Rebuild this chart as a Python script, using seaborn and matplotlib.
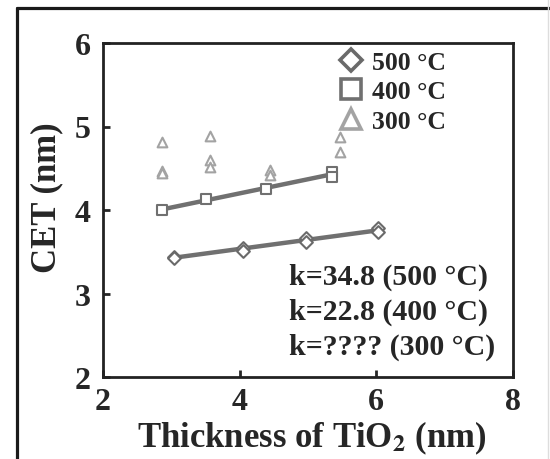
import matplotlib
matplotlib.use("Agg")
import matplotlib.pyplot as plt
import seaborn as sns
import pandas as pd
from matplotlib.lines import Line2D

# thickness of TiO2 (nm) and CET (nm)
t500 = [3.04, 3.04, 4.05, 4.05, 4.97, 4.97, 6.02, 6.02]
cet500 = [3.44, 3.43, 3.55, 3.51, 3.66, 3.62, 3.78, 3.74]

t400 = [2.86, 3.50, 4.38, 5.35, 5.35]
cet400 = [4.00, 4.13, 4.25, 4.46, 4.40]

t300 = [2.86, 2.86, 2.86, 3.57, 3.57, 3.57, 4.45, 4.45, 5.47, 5.47]
cet300 = [4.82, 4.47, 4.44, 4.89, 4.60, 4.52, 4.48, 4.42, 4.87, 4.70]

series_labels = ["500 °C", "400 °C", "300 °C"]
k_labels = ["k=34.8 (500 °C)", "k=22.8 (400 °C)", "k=???? (300 °C)"]
x_ticks = [2, 4, 6, 8]
y_ticks = [2, 3, 4, 5, 6]

sns.set_style("ticks")
plt.rcParams["font.family"] = ["Liberation Serif", "DejaVu Serif"]
plt.rcParams["font.weight"] = "bold"
plt.rcParams["mathtext.fontset"] = "stix"

fig = plt.figure(figsize=(5.5, 4.6), dpi=100)
ax = fig.add_axes([103 / 550, 1 - 378 / 460, 410 / 550, 334 / 460])

line_col = "#707070"
styles = {
    "500 °C": dict(marker="D", color="#6a6a6a", size=6.5),
    "400 °C": dict(marker="s", color="#707070", size=7.5),
    "300 °C": dict(marker="^", color="#a3a3a3", size=7.0),
}

# fitted lines (500 and 400 only)
for t, c in [(t500, cet500), (t400, cet400)]:
    sns.regplot(x=t, y=c, ax=ax, scatter=False, ci=None, truncate=True,
                line_kws=dict(color=line_col, lw=3.2, solid_capstyle="butt"))

df = pd.concat([
    pd.DataFrame({"t": t500, "cet": cet500, "T": series_labels[0]}),
    pd.DataFrame({"t": t400, "cet": cet400, "T": series_labels[1]}),
    pd.DataFrame({"t": t300, "cet": cet300, "T": series_labels[2]}),
])
for lab in series_labels:
    st = styles[lab]
    sub = df[df["T"] == lab]
    sns.scatterplot(data=sub, x="t", y="cet", ax=ax, marker=st["marker"],
                    s=st["size"] ** 2, facecolor="white", edgecolor=st["color"],
                    linewidth=1.5, legend=False, zorder=3)

ax.set_xlim(2, 8)
ax.set_ylim(2, 6)
ax.set_xticks(x_ticks)
ax.set_yticks(y_ticks)
ax.tick_params(direction="in", length=5, width=2, labelsize=23)
ax.tick_params(axis="x", pad=7)
ax.tick_params(axis="y", pad=9)
for sp in ax.spines.values():
    sp.set_linewidth(2)
    sp.set_color("#222222")

ax.set_xlabel("Thickness of TiO$_\\mathbf{2}$ (nm)", fontsize=25, fontweight="bold")
ax.set_ylabel("CET (nm)", fontsize=25, fontweight="bold")
ax.xaxis.set_label_coords(0.51, -0.125)
ax.yaxis.set_label_coords(-0.097, 0.54)

# legend with markers only
handles = [
    Line2D([], [], ls="none", marker="D", ms=11, mfc="white", mec="#6a6a6a", mew=2.6),
    Line2D([], [], ls="none", marker="s", ms=15, mfc="white", mec="#707070", mew=2.6),
    Line2D([], [], ls="none", marker="^", ms=15, mfc="white", mec="#a3a3a3", mew=2.6),
]
ax.legend(handles, series_labels, loc="upper left", bbox_to_anchor=(0.53, 1.03),
          frameon=False, fontsize=18.5, handlelength=1.0, handletextpad=0.3,
          labelspacing=0.25, borderpad=0.2)

for i, txt in enumerate(k_labels):
    ax.text(0.454, 0.302 - i * 0.105, txt, transform=ax.transAxes,
            fontsize=21.5, fontweight="bold", va="center", ha="left")

# outer frame of the picture
fig.add_artist(Line2D([0.030, 0.030], [0, 0.980], color="#1a1a1a", lw=2.3))
fig.add_artist(Line2D([0.030, 1.0], [0.980, 0.980], color="#1a1a1a", lw=2.3))
fig.add_artist(Line2D([0.996, 0.996], [0, 1], color="#dddddd", lw=1))

fig.savefig("out.png", dpi=100, facecolor="white")
